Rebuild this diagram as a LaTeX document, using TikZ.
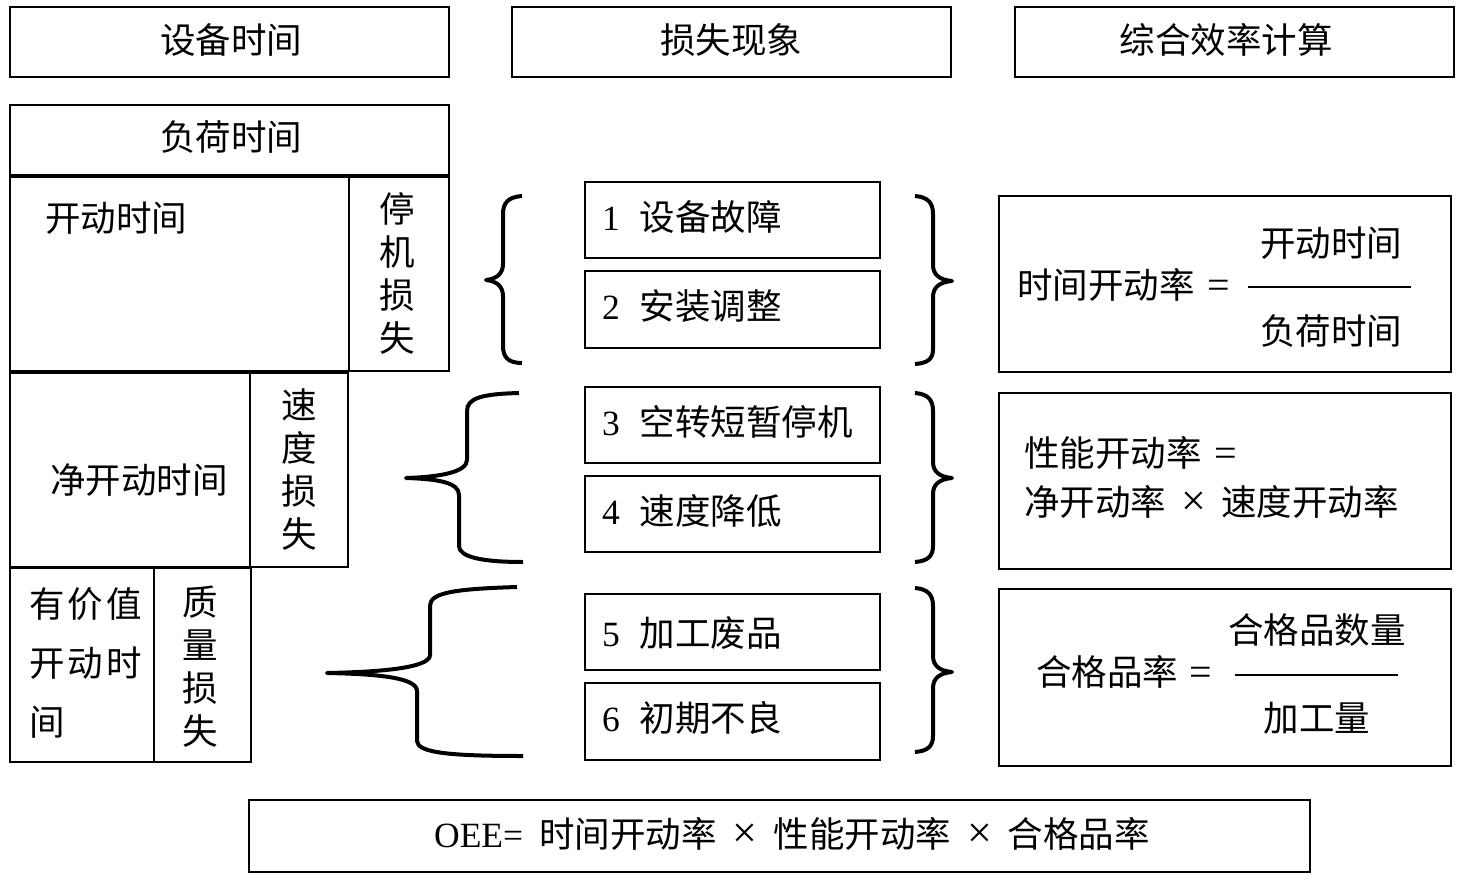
\documentclass[tikz,border=0pt]{standalone}
\usepackage{fontspec}
\setmainfont{Noto Sans CJK SC}
\newfontfamily\lat{Liberation Serif}
\newcommand{\eqs}{{\lat\fontsize{40}{40}\selectfont =}}
\newcommand{\tms}{{\lat\fontsize{44}{44}\selectfont ×}}
\begin{document}
\begin{tikzpicture}[x=1pt,y=-1pt,
  box/.style={draw, line width=2.5pt, inner sep=0pt},
  txt/.style={font=\fontsize{35.5}{42}\selectfont, inner sep=0pt},
  vtxt/.style={font=\fontsize{35.5}{43}\selectfont, inner sep=0pt, align=center},
  brace/.style={line width=4pt, line cap=butt, line join=round},
  fracline/.style={line width=2.5pt}]
\useasboundingbox (0,0) rectangle (1462,883);
% headers
\node[box, minimum width=439pt, minimum height=70pt] (h1) at (229.5,42) {};
\node[box, minimum width=439pt, minimum height=70pt] (h2) at (731.5,42) {};
\node[box, minimum width=439pt, minimum height=70pt] (h3) at (1234.5,42) {};
\node[txt] (h1t) at (231,40) {设备时间};
\node[txt] (h2t) at (731,40) {损失现象};
\node[txt] (h3t) at (1226,40) {综合效率计算};
% left column
\node[box, minimum width=439pt, minimum height=70pt] (fh) at (229.5,140) {};
\node[txt] (fht) at (231,137) {负荷时间};
\node[box, minimum width=339pt, minimum height=194pt] (kd) at (179.5,274) {};
\node[txt, anchor=west] (kdt) at (45,218) {开动时间};
\node[box, minimum width=100pt, minimum height=194pt] (tj) at (399,274) {};
\node[vtxt] (tjt) at (397,273) {停\\机\\损\\失};
\node[box, minimum width=240pt, minimum height=194pt] (jkd) at (130,470) {};
\node[txt] (jkdt) at (139,480) {净开动时间};
\node[box, minimum width=98pt, minimum height=194pt] (sd) at (299,470) {};
\node[vtxt] (sdt) at (299,470) {速\\度\\损\\失};
\node[box, minimum width=144pt, minimum height=194pt] (yjz) at (82,665) {};
\node[txt, font=\fontsize{35.5}{59}\selectfont, align=left, anchor=west] (yjzt) at (29,663) {有\hspace{3pt}价\hspace{3pt}值\\开\hspace{3pt}动\hspace{3pt}时\\间};
\node[box, minimum width=97pt, minimum height=194pt] (zl) at (202.5,665) {};
\node[vtxt] (zlt) at (200,667) {质\\量\\损\\失};
% middle column
\node[box, minimum width=295pt, minimum height=76pt] (m1) at (732.5,220) {};
\node[box, minimum width=295pt, minimum height=77pt] (m2) at (732.5,309.5) {};
\node[box, minimum width=295pt, minimum height=76pt] (m3) at (732.5,425) {};
\node[box, minimum width=295pt, minimum height=76pt] (m4) at (732.5,514) {};
\node[box, minimum width=295pt, minimum height=76pt] (m5) at (732.5,632) {};
\node[box, minimum width=295pt, minimum height=77pt] (m6) at (732.5,721.5) {};
\node[txt, anchor=west] (m1t) at (602,217) {{\lat 1}\hspace{20pt}设备故障};
\node[txt, anchor=west] (m2t) at (602,306) {{\lat 2}\hspace{20pt}安装调整};
\node[txt, anchor=west] (m3t) at (602,422) {{\lat 3}\hspace{20pt}空转短暂停机};
\node[txt, anchor=west] (m4t) at (602,511) {{\lat 4}\hspace{20pt}速度降低};
\node[txt, anchor=west] (m5t) at (602,633) {{\lat 5}\hspace{20pt}加工废品};
\node[txt, anchor=west] (m6t) at (602,718) {{\lat 6}\hspace{20pt}初期不良};
% left braces
\draw[brace] (522,196) .. controls (508,197) and (503,203) .. (503,214) -- (503,264)
  .. controls (503,274) and (496,279) .. (486,280) .. controls (496,281) and (503,286) .. (503,296)
  -- (503,346) .. controls (503,357) and (508,363) .. (522,363);
\draw[brace] (519,393) .. controls (482,394) and (467,398) .. (467,411) -- (467,460)
  .. controls (467,472) and (440,477) .. (406,478) .. controls (440,479) and (459,483) .. (459,495)
  -- (459,546) .. controls (459,557) and (482,562) .. (523,562);
\draw[brace] (517,587) .. controls (452,589) and (430,593) .. (430,606) -- (430,655)
  .. controls (430,668) and (380,672) .. (327,673) .. controls (380,674) and (417,678) .. (417,691)
  -- (417,741) .. controls (417,753) and (452,756) .. (523,756);
% right braces
\draw[brace] (915,196) .. controls (928,197) and (933,203) .. (933,214) -- (933,265)
  .. controls (933,275) and (940,280) .. (952,281) .. controls (940,282) and (933,287) .. (933,297)
  -- (933,349) .. controls (933,359) and (928,363) .. (915,364);
\draw[brace] (915,393) .. controls (928,394) and (933,400) .. (933,411) -- (933,462)
  .. controls (933,472) and (940,477) .. (952,478) .. controls (940,479) and (933,484) .. (933,494)
  -- (933,546) .. controls (933,556) and (928,561) .. (915,562);
\draw[brace] (915,588) .. controls (928,589) and (933,595) .. (933,606) -- (933,656)
  .. controls (933,666) and (940,671) .. (952,672) .. controls (940,673) and (933,678) .. (933,688)
  -- (933,736) .. controls (933,746) and (928,751) .. (915,752);
% right column
\node[box, minimum width=452pt, minimum height=176pt] (r1) at (1225,284) {};
\node[box, minimum width=452pt, minimum height=176pt] (r2) at (1225,481) {};
\node[box, minimum width=452pt, minimum height=177pt] (r3) at (1225,677.5) {};
\node[txt, anchor=west] (r1a) at (1017,285) {时间开动率\hspace{13pt}\eqs};
\node[txt] (r1n) at (1331,243) {开动时间};
\node[txt] (r1d) at (1331,331) {负荷时间};
\coordinate (r1l) at (1248,287);
\coordinate (r1r) at (1411,287);
\draw[fracline] (r1l) -- (r1r);
\node[txt, anchor=west] (r2a) at (1024,453) {性能开动率\hspace{13pt}\eqs};
\node[txt, anchor=west] (r2b) at (1024,502) {净开动率\hspace{15pt}\tms\hspace{15pt}速度开动率};
\node[txt, anchor=west] (r3a) at (1036,672) {合格品率\hspace{11pt}\eqs};
\node[txt] (r3n) at (1317,630) {合格品数量};
\node[txt] (r3d) at (1317,718) {加工量};
\coordinate (r3l) at (1235,675);
\coordinate (r3r) at (1398,675);
\draw[fracline] (r3l) -- (r3r);
% bottom
\node[box, minimum width=1061pt, minimum height=72pt] (oee) at (779.5,836) {};
\node[txt] (oeet) at (792,834) {{\lat OEE=}\hspace{16pt}时间开动率\hspace{16pt}\tms\hspace{16pt}性能开动率\hspace{16pt}\tms\hspace{16pt}合格品率};
\end{tikzpicture}
\end{document}
